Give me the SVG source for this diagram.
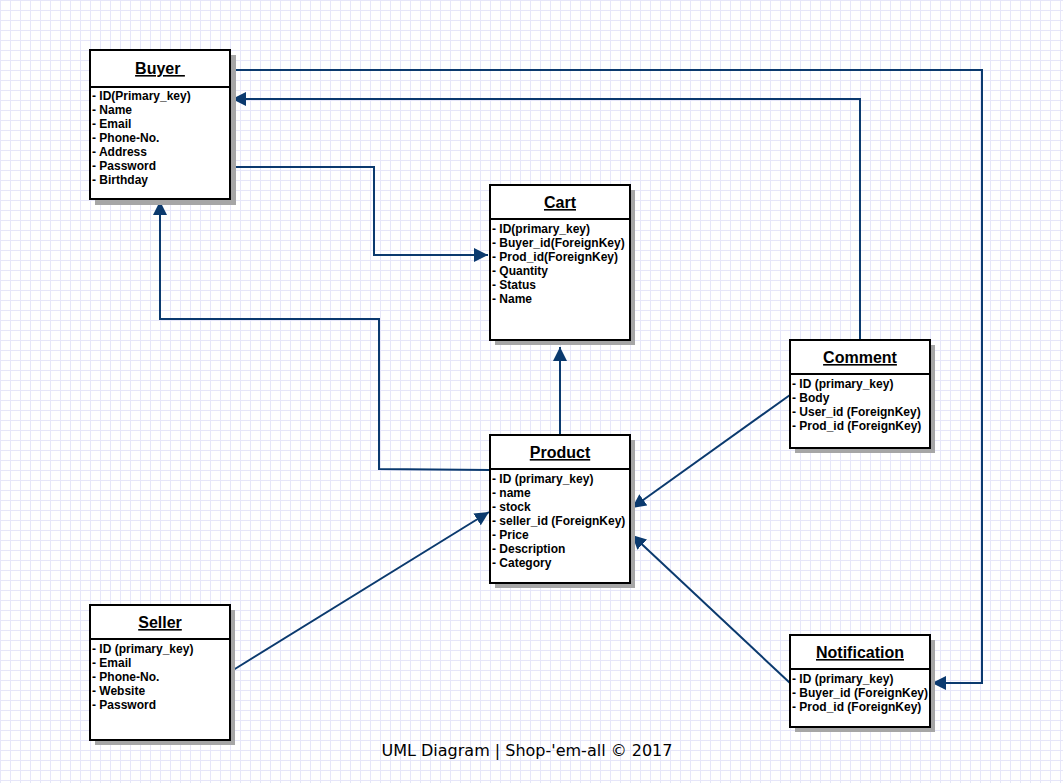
<svg xmlns="http://www.w3.org/2000/svg" width="1063" height="783" viewBox="0 0 1063 783">
<style>
.box{fill:#fff;stroke:#000;stroke-width:2}
.shadow{fill:#a6a6a6}
.div{stroke:#000;stroke-width:2}
.title{font-family:"Liberation Sans",Arial,sans-serif;font-size:16px;font-weight:bold;text-decoration:underline;text-anchor:middle;fill:#000}
.attr{font-family:"Liberation Sans",Arial,sans-serif;font-size:12px;font-weight:bold;fill:#000}
.conn{fill:none;stroke:#0b3a6e;stroke-width:2}
.cap{font-family:"DejaVu Sans",sans-serif;font-size:16px;text-anchor:middle;fill:#000}
</style>
<defs>
<pattern id="grid" width="10" height="10" patternUnits="userSpaceOnUse">
<path d="M0.5 0V10M0 0.5H10" stroke="#e6e6f9" stroke-width="1" fill="none"/>
</pattern>
<marker id="arr" markerUnits="userSpaceOnUse" markerWidth="15" markerHeight="14" refX="14" refY="7" orient="auto" viewBox="0 0 15 14">
<path d="M0 0L14 7L0 14z" fill="#0b3a6e"/>
</marker>
</defs>
<rect width="1063" height="783" fill="#fff"/>
<rect width="1063" height="783" fill="url(#grid)"/>

<g id="connectors">
<polyline class="conn" points="231,70 982,70 982,683 932,683" marker-end="url(#arr)"/>
<polyline class="conn" points="860,340 860,99 232,99" marker-end="url(#arr)"/>
<polyline class="conn" points="231,167 374,167 374,255 488,255" marker-end="url(#arr)"/>
<polyline class="conn" points="490,470 379,469 379,319 160,319 160,201" marker-end="url(#arr)"/>
<polyline class="conn" points="560,435 560,347" marker-end="url(#arr)"/>
<line class="conn" x1="790" y1="395" x2="632" y2="508" marker-end="url(#arr)"/>
<line class="conn" x1="790" y1="683" x2="632" y2="535" marker-end="url(#arr)"/>
<line class="conn" x1="230" y1="672" x2="489" y2="512" marker-end="url(#arr)"/>
</g>

<g id="buyer">
<rect class="shadow" x="95" y="55" width="141" height="150"/>
<rect class="box" x="90" y="50" width="140" height="149"/>
<line class="div" x1="90" y1="87" x2="230" y2="87"/>
<text class="title" x="160" y="74">Buyer&#160;</text>
<text class="attr"><tspan x="92" y="100">- ID(Primary_key)</tspan><tspan x="92" y="114">- Name</tspan><tspan x="92" y="128">- Email</tspan><tspan x="92" y="142">- Phone-No.</tspan><tspan x="92" y="156">- Address</tspan><tspan x="92" y="170">- Password</tspan><tspan x="92" y="184">- Birthday</tspan></text>
</g>

<g id="cart">
<rect class="shadow" x="495" y="190" width="140" height="155"/>
<rect class="box" x="490" y="185" width="140" height="155"/>
<line class="div" x1="490" y1="219" x2="630" y2="219"/>
<text class="title" x="560" y="208">Cart</text>
<text class="attr"><tspan x="492" y="233">- ID(primary_key)</tspan><tspan x="492" y="247">- Buyer_id(ForeignKey)</tspan><tspan x="492" y="261">- Prod_id(ForeignKey)</tspan><tspan x="492" y="275">- Quantity</tspan><tspan x="492" y="289">- Status</tspan><tspan x="492" y="303">- Name</tspan></text>
</g>

<g id="comment">
<rect class="shadow" x="795" y="345" width="140" height="108"/>
<rect class="box" x="790" y="340" width="140" height="108"/>
<line class="div" x1="790" y1="374" x2="930" y2="374"/>
<text class="title" x="860" y="363">Comment</text>
<text class="attr"><tspan x="792" y="388">- ID (primary_key)</tspan><tspan x="792" y="402">- Body</tspan><tspan x="792" y="416">- User_id (ForeignKey)</tspan><tspan x="792" y="430">- Prod_id (ForeignKey)</tspan></text>
</g>

<g id="product">
<rect class="shadow" x="495" y="440" width="140" height="148"/>
<rect class="box" x="490" y="435" width="140" height="148"/>
<line class="div" x1="490" y1="469" x2="630" y2="469"/>
<text class="title" x="560" y="458">Product</text>
<text class="attr"><tspan x="492" y="483">- ID (primary_key)</tspan><tspan x="492" y="497">- name</tspan><tspan x="492" y="511">- stock</tspan><tspan x="492" y="525">- seller_id (ForeignKey)</tspan><tspan x="492" y="539">- Price</tspan><tspan x="492" y="553">- Description</tspan><tspan x="492" y="567">- Category</tspan></text>
</g>

<g id="seller">
<rect class="shadow" x="95" y="610" width="140" height="135"/>
<rect class="box" x="90" y="605" width="140" height="135"/>
<line class="div" x1="90" y1="639" x2="230" y2="639"/>
<text class="title" x="160" y="628">Seller</text>
<text class="attr"><tspan x="92" y="653">- ID (primary_key)</tspan><tspan x="92" y="667">- Email</tspan><tspan x="92" y="681">- Phone-No.</tspan><tspan x="92" y="695">- Website</tspan><tspan x="92" y="709">- Password</tspan></text>
</g>

<g id="notification">
<rect class="shadow" x="795" y="640" width="140" height="92"/>
<rect class="box" x="790" y="635" width="140" height="92"/>
<line class="div" x1="790" y1="669" x2="930" y2="669"/>
<text class="title" x="860" y="658">Notification</text>
<text class="attr"><tspan x="792" y="683">- ID (primary_key)</tspan><tspan x="792" y="697">- Buyer_id (ForeignKey)</tspan><tspan x="792" y="711">- Prod_id (ForeignKey)</tspan></text>
</g>

<text class="cap" x="527" y="756">UML Diagram | Shop-'em-all © 2017</text>
</svg>
